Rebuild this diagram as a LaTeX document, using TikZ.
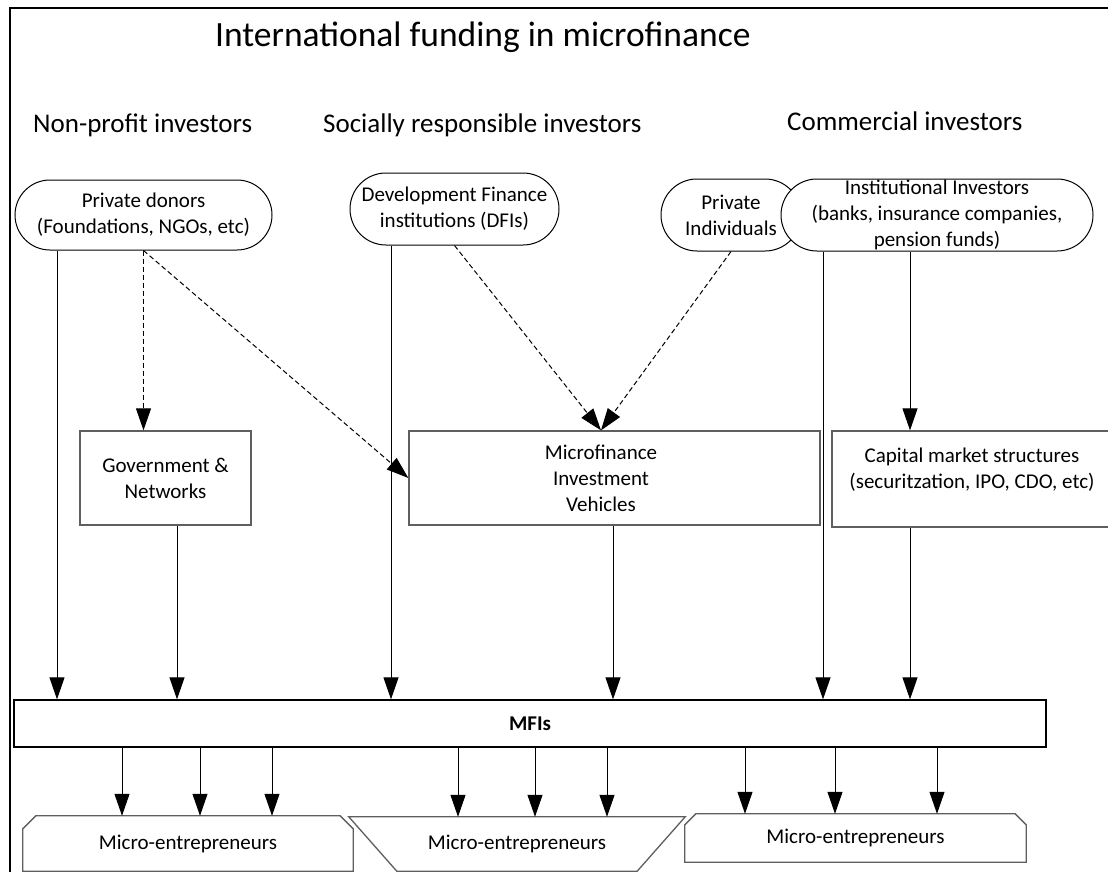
\documentclass[tikz,border=0pt]{standalone}
\usepackage{fontspec}
\setmainfont{Carlito}
\usetikzlibrary{arrows.meta,calc}
\definecolor{edgegray}{RGB}{95,95,95}
\newcommand\diagfont{\fontsize{21}{26}\selectfont}
\newcommand\headfont{\fontsize{27}{32}\selectfont}
\newcommand\titlefont{\fontsize{35.5}{42}\selectfont}
\begin{document}
\begin{tikzpicture}[x=1pt,y=-1pt,
  stadium/.style={rectangle, draw=black, line width=1pt, fill=white, align=center, font=\diagfont, inner sep=0pt},
  box/.style={rectangle, draw=edgegray, line width=1.3pt, fill=white, align=center, font=\diagfont, inner sep=0pt},
  metext/.style={rectangle, inner sep=0pt, font=\diagfont},
  meshape/.style={draw=edgegray, line width=1.3pt},
  heading/.style={anchor=base west, inner sep=0pt},
  arr/.style={-{Triangle[length=22pt,width=15pt]}, line width=1pt},
  darr/.style={arr, dash pattern=on 5pt off 3pt}]
\clip (0,0) rectangle (1108,872);
\fill[white] (0,0) rectangle (1108,872);
\draw[line width=2.5pt] (10,872) -- (10,8) -- (1108,8);

% headings
\node[heading, font=\titlefont] (title) at (215,47) {International funding in microfinance};
\node[heading, font=\headfont] (h1) at (33,133) {Non-profit investors};
\node[heading, font=\headfont] (h2) at (323,133) {Socially responsible investors};
\node[heading, font=\headfont] (h3) at (787,131) {Commercial investors};

% investors
\node[stadium, minimum width=257, minimum height=70, rounded corners=35] (pd) at (143.5,215) {Private donors\\(Foundations, NGOs, etc)};
\node[stadium, minimum width=209, minimum height=72, rounded corners=36] (dfi) at (454.5,209) {Development Finance\\institutions (DFIs)};
\node[stadium, minimum width=140, minimum height=72, rounded corners=36] (pi) at (731,215) {Private\\Individuals};
\node[stadium, minimum width=312, minimum height=72, rounded corners=36] (ii) at (937,215) {Institutional Investors\\(banks, insurance companies,\\pension funds)};

% intermediaries
\node[box, minimum width=171, minimum height=94] (gov) at (165.5,478) {Government \&\\Networks};
\node[box, minimum width=411, minimum height=94] (miv) at (614.5,478) {};
\node[metext, align=center] (mivtext) at (601,478) {Microfinance\\Investment\\Vehicles};
\node[box, minimum width=280, minimum height=96] (cms) at (972,479) {Capital market structures\\(securitzation, IPO, CDO, etc)\\[-12pt]\strut};

% MFIs
\node[box, draw=black, minimum width=1032, minimum height=47, font=\diagfont\bfseries] (mfis) at (530,723.5) {MFIs};

% micro-entrepreneurs
\node[metext, minimum width=330, minimum height=55] (me1) at (188,843.5) {Micro-entrepreneurs};
\draw[meshape] (me1.south west) -- ($(me1.north west)+(0,13)$) -- ($(me1.north west)+(13,0)$) -- ($(me1.north east)+(-13,0)$) -- ($(me1.north east)+(0,13)$) -- (me1.south east) -- cycle;
\node[metext, minimum width=336, minimum height=54] (me2) at (517,844) {Micro-entrepreneurs};
\draw[meshape] (me2.north west) -- (me2.north east) -- ($(me2.south east)+(-48,0)$) -- ($(me2.south west)+(48,0)$) -- cycle;
\node[metext, minimum width=341, minimum height=48] (me3) at (855.5,838) {Micro-entrepreneurs};
\draw[meshape] (me3.south west) -- ($(me3.north west)+(0,11)$) -- ($(me3.north west)+(11,0)$) -- ($(me3.north east)+(-11,0)$) -- ($(me3.north east)+(0,11)$) -- (me3.south east) -- cycle;

% column coordinates
\coordinate (cA) at (57,0);
\coordinate (cB) at (177,0);
\coordinate (cC) at (391,0);
\coordinate (cD) at (613,0);
\coordinate (cE) at (823,0);
\coordinate (cF) at (910,0);
\coordinate (mivin) at ($(miv.north)+(-13.5,0)$);

% solid flows
\draw[arr] (pd.south -| cA) -- (mfis.north -| cA);
\draw[arr] (gov.south -| cB) -- (mfis.north -| cB);
\draw[arr] (dfi.south -| cC) -- (mfis.north -| cC);
\draw[arr] (miv.south -| cD) -- (mfis.north -| cD);
\draw[arr] (ii.south -| cE) -- (mfis.north -| cE);
\draw[arr] (ii.south -| cF) -- (cms.north -| cF);
\draw[arr] (cms.south -| cF) -- (mfis.north -| cF);

% dashed flows
\draw[darr] (pd.south) -- (gov.north -| pd.south);
\draw[darr] (pd.south) -- (miv.west);
\draw[darr] (dfi.south) -- (mivin);
\draw[darr] (pi.south) -- (mivin);

% MFIs to micro-entrepreneurs
\foreach \x in {122,200,272} {\coordinate (t) at (\x,0); \draw[arr] (mfis.south -| t) -- (me1.north -| t);}
\foreach \x in {458,535,607} {\coordinate (t) at (\x,0); \draw[arr] (mfis.south -| t) -- (me2.north -| t);}
\foreach \x in {745,835,937} {\coordinate (t) at (\x,0); \draw[arr] (mfis.south -| t) -- (me3.north -| t);}
\end{tikzpicture}
\end{document}
